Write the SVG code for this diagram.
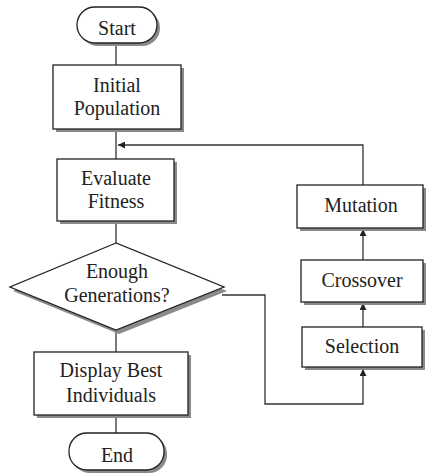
<svg xmlns="http://www.w3.org/2000/svg" width="426" height="476" viewBox="0 0 426 476">
  <defs>
    <style>
      .shape { fill: #ffffff; stroke: #222222; stroke-width: 1.3; }
      .shadow { fill: #8a8a8a; stroke: none; }
      .label { font-family: "Liberation Serif", "Times New Roman", serif; font-size: 20px; fill: #222222; text-anchor: middle; }
      .wire { fill: none; stroke: #333333; stroke-width: 1.3; }
    </style>
    <marker id="arrow" viewBox="0 0 10 10" refX="10" refY="5" markerWidth="7" markerHeight="7" markerUnits="userSpaceOnUse" orient="auto">
      <path d="M0,0 L10,5 L0,10 z" fill="#222222"/>
    </marker>
  </defs>
  <rect width="426" height="476" fill="#ffffff"/>

  <g id="connectors">
    <line class="wire" x1="116" y1="43" x2="116" y2="65"/>
    <line class="wire" x1="116" y1="129" x2="116" y2="159"/>
    <line class="wire" x1="116" y1="221" x2="116" y2="243"/>
    <line class="wire" x1="116" y1="330" x2="116" y2="352"/>
    <line class="wire" x1="116" y1="415" x2="116" y2="433"/>
    <polyline class="wire" points="363,185 363,145 118,145" marker-end="url(#arrow)"/>
    <line class="wire" x1="363" y1="260" x2="363" y2="229" marker-end="url(#arrow)"/>
    <line class="wire" x1="363" y1="327" x2="363" y2="303" marker-end="url(#arrow)"/>
    <polyline class="wire" points="222,295 265,295 265,404 363,404 363,369" marker-end="url(#arrow)"/>
  </g>

  <g id="start">
    <rect class="shadow" x="80" y="10" width="80" height="36" rx="18"/>
    <rect class="shape" x="77" y="7" width="80" height="36" rx="18"/>
    <text class="label" x="117" y="35">Start</text>
  </g>

  <g id="initial-population">
    <rect class="shadow" x="56" y="68" width="128" height="64"/>
    <rect class="shape" x="53" y="65" width="128" height="64"/>
    <text class="label" x="117" y="92">Initial</text>
    <text class="label" x="117" y="115">Population</text>
  </g>

  <g id="evaluate-fitness">
    <rect class="shadow" x="60" y="162" width="117" height="62"/>
    <rect class="shape" x="57" y="159" width="117" height="62"/>
    <text class="label" x="116" y="185">Evaluate</text>
    <text class="label" x="116" y="208">Fitness</text>
  </g>

  <g id="enough-generations">
    <polygon class="shadow" points="119,247 13,291 119,334 227,291"/>
    <polygon class="shape" points="116,243 10,287 116,330 224,287"/>
    <text class="label" x="117" y="278">Enough</text>
    <text class="label" x="117" y="302">Generations?</text>
  </g>

  <g id="display-best">
    <rect class="shadow" x="37" y="355" width="154" height="63"/>
    <rect class="shape" x="34" y="352" width="154" height="63"/>
    <text class="label" x="111" y="377">Display Best</text>
    <text class="label" x="111" y="402">Individuals</text>
  </g>

  <g id="end">
    <rect class="shadow" x="72" y="436" width="95" height="37" rx="18"/>
    <rect class="shape" x="69" y="433" width="95" height="37" rx="18"/>
    <text class="label" x="117" y="462">End</text>
  </g>

  <g id="mutation">
    <rect class="shadow" x="300" y="188" width="126" height="43"/>
    <rect class="shape" x="297" y="185" width="126" height="43"/>
    <text class="label" x="361" y="212">Mutation</text>
  </g>

  <g id="crossover">
    <rect class="shadow" x="304" y="263" width="122" height="42"/>
    <rect class="shape" x="301" y="260" width="122" height="42"/>
    <text class="label" x="362" y="287">Crossover</text>
  </g>

  <g id="selection">
    <rect class="shadow" x="305" y="330" width="120" height="40"/>
    <rect class="shape" x="302" y="327" width="120" height="40"/>
    <text class="label" x="362" y="353">Selection</text>
  </g>
</svg>
